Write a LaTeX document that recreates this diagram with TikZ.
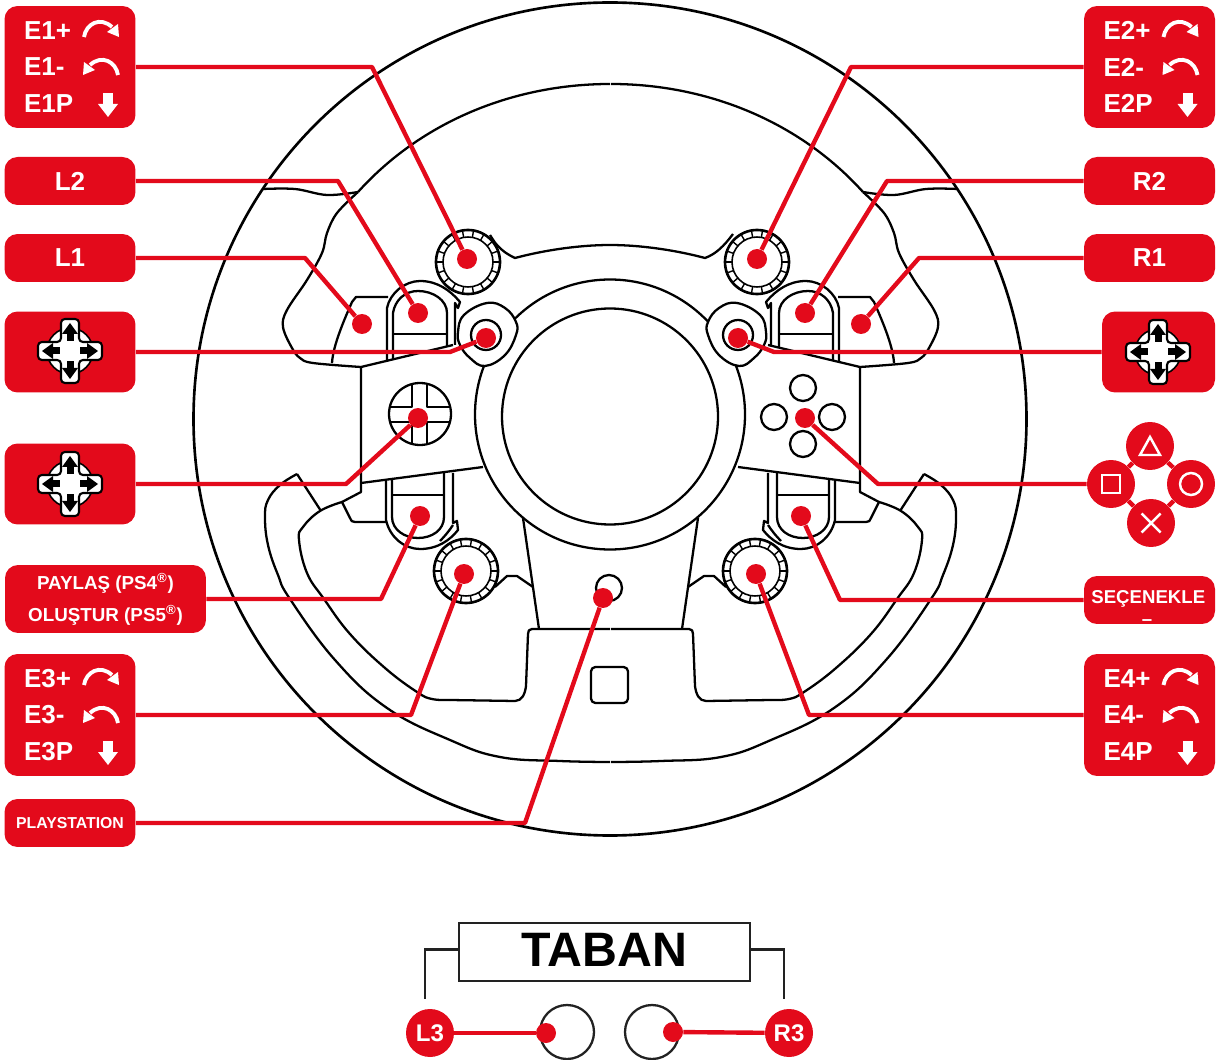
\documentclass[tikz,border=0pt]{standalone}
\usepackage{fontspec}
\setmainfont{Liberation Sans}
\usepackage{xcolor}
\usetikzlibrary{calc}
\definecolor{BtnRed}{HTML}{E30A1B}
\definecolor{BaseInk}{HTML}{222222}
\newcommand{\wheelhalf}{
  \draw[wire] (610,84) .. controls (514.5,84) and (422,121) .. (358,192);
  \draw[wire] plot[smooth,tension=0.6] coordinates {(263,189) (295,189) (327,195) (358,192)};
  \draw[wire] plot[smooth,tension=0.6] coordinates {(358,192) (337,213) (327,233) (322,253) (307,280) (287,310) (283,327) (292,348) (300,358) (313,363) (361,367)};
  \draw[wire] (361,367) -- (453,345);
  \draw[wire] (483,467) -- (361,483);
  \draw[wire] (361,367) -- (361,492) -- (342,502);
  \draw[wire] plot[smooth,tension=0.7] coordinates {(297,474) (280,485) (268,500) (265,517) (268,545) (278,575) (290,599) (335,660) (387,708) (450,740) (500,757) (560,761) (610,762)};
  \draw[wire] (297,474) -- (321,511);
  \draw[wire] plot[smooth,tension=0.7] coordinates {(342,502) (320,511) (303,527) (299,540) (307,573) (324,599) (350,634) (385,668) (417,692) (432,699) (450,700)};
  \draw[wire] (450,700) -- (515,701) .. controls (522,701) and (525,694) .. (526,686) -- (528,634) .. controls (528,631) and (529,629) .. (532,629) -- (610,629);
  \draw[wire] (523,518) -- (539,629);
  \draw[wire] (495,587) -- (507,576) -- (517,576) -- (533,587);
  \draw[wire] (342,502) -- (350,518) .. controls (351,521) and (352,522) .. (355,522) -- (386,522);
  \draw[wire] (386,480) -- (386,520) .. controls (390,538) and (405,549) .. (420,549) .. controls (438,549) and (450,540) .. (458,530) -- (457,521) -- (453,523) -- (453,473);
  \draw[wire] (453,525) .. controls (449,531) and (445,536) .. (440,541);
  \draw[wire] (392,480) -- (392,517) .. controls (392,530) and (405,538) .. (418,538) .. controls (432,538) and (444,530) .. (444,517) -- (444,473);
  \draw[wire] (392,495) -- (444,495);
}
\newcommand{\upperpaddles}{
  \draw[wire] (332,363) .. controls (333,345) and (345,318) .. (352,302) -- (356,297) -- (388,297);
  \draw[wire] (387,362) -- (387,308) .. controls (390,293) and (405,281) .. (420,281) .. controls (437,281) and (450,290) .. (460,302) -- (458,308) -- (455,303) -- (455,345);
  \draw[wire] (393,360) -- (393,313) .. controls (395,300) and (405,291) .. (418,291) .. controls (433,291) and (447,300) .. (447,313) -- (447,347);
  \draw[wire] (393,334) -- (447,334);
}
\newcommand{\stickblob}{
  \draw[wire,fill=white] plot[smooth cycle,tension=0.7] coordinates {(487,303) (505,308) (516,322) (516,335) (505,355) (485,366) (470,358) (460,345) (458,332) (464,315)};
  \draw[wire] (486,335) circle (15);
}
\begin{document}
\begin{tikzpicture}[
    x=0.02cm, y=-0.02cm,
    wire/.style = {black, line width=1.3pt, line join=round},
    tag/.style = {rectangle, fill=BtnRed, rounded corners=0.26cm, text=white, inner sep=0pt,
      minimum width=2.62cm, align=center},
    bigtext/.style = {font=\fontsize{14.8}{21}\selectfont\bfseries},
    lead/.style = {draw=BtnRed, line width=2.5pt, line join=round},
    dot/.style = {circle, fill=BtnRed, minimum size=0.4cm, inner sep=0pt},
    facebtn/.style = {circle, fill=BtnRed, minimum size=0.96cm, inner sep=0pt},
    sym/.style = {draw=white, line width=1.4pt},
    base/.style = {draw=BaseInk, line width=1.3pt},
    knob/.pic = {
      \draw[black, line width=1.5pt, fill=white] (0,0) circle (32);
      \draw[black, line width=0.9pt] (0,0) circle (25);
      \foreach \a in {0,20,...,340} {\draw[black, line width=0.8pt] (\a:25) -- (\a:31);}
    },
    rotset/.pic = {
      \foreach \s/\yy in {1/-37,-1/1} {
        \begin{scope}[shift={(31,\yy)}, xscale=\s]
          \draw[white, line width=2.2pt] (-17,7) .. controls (-15,-6) and (-1,-14) .. (11,-3);
          \fill[white] (18,7) -- (6,2) -- (17,-6) -- cycle;
        \end{scope}
      }
      \fill[white] (33,26) rectangle (43,37);
      \fill[white] (28,37) -- (48,37) -- (38,50) -- cycle;
    },
    crosspad/.pic = {
      \draw[black, line width=0.9pt, fill=white] (0,0) circle (23);
      \draw[black, line width=1.2pt, fill=white, rounded corners=2.2pt] (-9,-32) -- (9,-32) -- (9,-9) -- (32,-9) -- (32,9) -- (9,9) -- (9,32) -- (-9,32) -- (-9,9) -- (-32,9) -- (-32,-9) -- (-9,-9) -- cycle;
      \foreach \a in {0,90,180,270} {
        \begin{scope}[rotate=\a]
          \fill[black] (28,0) -- (17,-8) -- (17,8) -- cycle;
          \fill[black] (10,-3.5) rectangle (18,3.5);
        \end{scope}
      }
    }
  ]
  \useasboundingbox (0,0) rectangle (1227,1060);

  \draw[black, line width=1.5pt] (610,419) circle (416.5);
  \wheelhalf
  \begin{scope}[shift={(1221,0)}, xscale=-1]
    \wheelhalf
  \end{scope}
  \upperpaddles
  \begin{scope}[shift={(1226,0)}, xscale=-1]
    \upperpaddles
  \end{scope}
  \draw[wire] (610,414.5) circle (135);
  \draw[wire] (610,416.5) circle (108);
  \stickblob
  \begin{scope}[shift={(1224,0)}, xscale=-1]
    \stickblob
  \end{scope}
  \draw[wire] (490,235) .. controls (494,241) and (498,250) .. (515,258) .. controls (545,250) and (580,245) .. (610,245) .. controls (640,245) and (675,250) .. (705,258) .. controls (716,254) and (724,246) .. (733,234);
  \pic at (468,262) {knob};
  \pic at (757,262) {knob};
  \pic at (466,571) {knob};
  \pic at (755,571) {knob};
  \draw[wire] (420,414) circle (31);
  \draw[wire] (412,384) -- (412,407) -- (390,407);
  \draw[wire] (427,384) -- (427,407) -- (450,407);
  \draw[wire] (412,444) -- (412,422) -- (390,422);
  \draw[wire] (427,444) -- (427,422) -- (450,422);
  \draw[wire] (803,388) circle (13);
  \draw[wire] (774,417) circle (13);
  \draw[wire] (832,417) circle (13);
  \draw[wire] (803,444) circle (13);
  \draw[wire] (609,588) circle (13);
  \draw[wire, rounded corners=2.5pt] (591,667) rectangle (628,703);

  \node (E1) [tag, bigtext, minimum height=2.44cm] at (70,67)
    {\parbox{1.84cm}{\raggedright E1+\\E1-\\E1P}};
  \node (E2) [tag, bigtext, minimum height=2.44cm] at (1149.5,67)
    {\parbox{1.84cm}{\raggedright E2+\\E2-\\E2P}};
  \node (E3) [tag, bigtext, minimum height=2.44cm] at (70,715)
    {\parbox{1.84cm}{\raggedright E3+\\E3-\\E3P}};
  \node (E4) [tag, bigtext, minimum height=2.44cm] at (1149.5,715)
    {\parbox{1.84cm}{\raggedright E4+\\E4-\\E4P}};
  \pic at (E1.center) {rotset};
  \pic at (E2.center) {rotset};
  \pic at (E3.center) {rotset};
  \pic at (E4.center) {rotset};
  \node (L2) [tag, bigtext, minimum height=0.96cm] at (70,181) {L2};
  \node (R2) [tag, bigtext, minimum height=0.96cm] at (1149.5,181) {R2};
  \node (L1) [tag, bigtext, minimum height=0.96cm] at (70,258) {L1};
  \node (R1) [tag, bigtext, minimum height=0.96cm] at (1149.5,258) {R1};
  \node (PadA) [tag, minimum height=1.62cm] at (70,352) {};
  \node (PadB) [tag, minimum height=1.62cm, minimum width=2.26cm] at (1158.5,352) {};
  \node (PadC) [tag, minimum height=1.62cm] at (70,484) {};
  \pic at (70,351) {crosspad};
  \pic at (1158,352) {crosspad};
  \pic at (70,484) {crosspad};
  \node (Share) [tag, minimum height=1.36cm, minimum width=4.02cm,
    font=\fontsize{10.7}{18.2}\selectfont\bfseries] at (105.5,599)
    {PAYLAŞ (PS4\textsuperscript{®})\\OLUŞTUR (PS5\textsuperscript{®})};
  \node (Opt) [tag, minimum height=0.96cm, font=\fontsize{10.6}{12}\selectfont\bfseries] at (1149.5,600)
    {\raisebox{0.14cm}{\kern-0.05cm SEÇENEKLE}};
  \node (OptEnd) [text=white, inner sep=0pt, font=\fontsize{10.6}{12}\selectfont\bfseries] at (1147,623) {–};
  \node (PS) [tag, minimum height=0.96cm, font=\fontsize{9}{12}\selectfont\bfseries] at (70,823) {PLAYSTATION};

  \node (FT) [facebtn] at (1150,446) {};
  \node (FS) [facebtn] at (1111,484) {};
  \node (FC) [facebtn] at (1191,484) {};
  \node (FX) [facebtn] at (1151,523) {};
  \draw[lead] (FT) -- (FS);
  \draw[lead] (FT) -- (FC);
  \draw[lead] (FX) -- (FS);
  \draw[lead] (FX) -- (FC);
  \draw[sym, line join=miter] ([shift={(0,-9)}]FT.center) -- ([shift={(10,9)}]FT.center) -- ([shift={(-10,9)}]FT.center) -- cycle;
  \draw[sym] ([shift={(-9,-9)}]FS.center) rectangle ([shift={(9,9)}]FS.center);
  \draw[sym] (FC.center) circle (11);
  \draw[sym] ([shift={(-9.5,-9.5)}]FX.center) -- ([shift={(9.5,9.5)}]FX.center);
  \draw[sym] ([shift={(-9.5,9.5)}]FX.center) -- ([shift={(9.5,-9.5)}]FX.center);

  \node (dE1) [dot] at (467,259) {};
  \node (dE2) [dot] at (757,259) {};
  \node (dL2) [dot] at (418,313) {};
  \node (dR2) [dot] at (805,313) {};
  \node (dL1) [dot] at (362,324) {};
  \node (dR1) [dot] at (861,324) {};
  \node (dPadA) [dot] at (486,338) {};
  \node (dPadB) [dot] at (738,338) {};
  \node (dPadC) [dot] at (418,418) {};
  \node (dFace) [dot] at (805,418) {};
  \node (dShare) [dot] at (420,516) {};
  \node (dOpt) [dot] at (801,516) {};
  \node (dE3) [dot] at (464,574) {};
  \node (dE4) [dot] at (756,574) {};
  \node (dPS) [dot] at (603,598) {};

  \draw[lead] (E1) -- (372,67) -- (dE1);
  \draw[lead] (E2) -- (851,67) -- (dE2);
  \draw[lead] (L2) -- (338,181) -- (dL2);
  \draw[lead] (R2) -- (887,181) -- (dR2);
  \draw[lead] (L1) -- (305,258) -- (dL1);
  \draw[lead] (R1) -- (919,258) -- (dR1);
  \draw[lead] (PadA) -- (450,352) -- (dPadA);
  \draw[lead] (PadB) -- (774,352) -- (dPadB);
  \draw[lead] (PadC) -- (346,484) -- (dPadC);
  \draw[lead] (FS) -- (878,484) -- (dFace);
  \draw[lead] (Share) -- (381,599) -- (dShare);
  \draw[lead] (Opt) -- (840,600) -- (dOpt);
  \draw[lead] (E3) -- (411,715) -- (dE3);
  \draw[lead] (E4) -- (809,715) -- (dE4);
  \draw[lead] (PS) -- (525,823) -- (dPS);

  \node (Base) [rectangle, base, minimum width=5.82cm, minimum height=1.16cm, inner sep=0pt,
    font=\fontsize{27.5}{30}\selectfont\bfseries] at (604.5,952) {\raisebox{0.07cm}{TABAN}};
  \coordinate (BaseL) at (425,999);
  \coordinate (BaseR) at (784,999);
  \draw[base] ([yshift=0.05cm]Base.west) -| (BaseL);
  \draw[base] ([yshift=0.05cm]Base.east) -| (BaseR);
  \draw[base] (567,1032) circle (27);
  \draw[base] (652,1032) circle (27);
  \node (L3) [facebtn, text=white, font=\fontsize{13.7}{16}\selectfont\bfseries] at (430,1033) {L3};
  \node (R3) [facebtn, text=white, font=\fontsize{13.7}{16}\selectfont\bfseries] at (789,1033) {R3};
  \node (dL3) [dot] at (546,1033) {};
  \node (dR3) [dot] at (673,1032) {};
  \draw[lead] (L3) -- (dL3);
  \draw[lead] (R3) -- (dR3);
\end{tikzpicture}
\end{document}
